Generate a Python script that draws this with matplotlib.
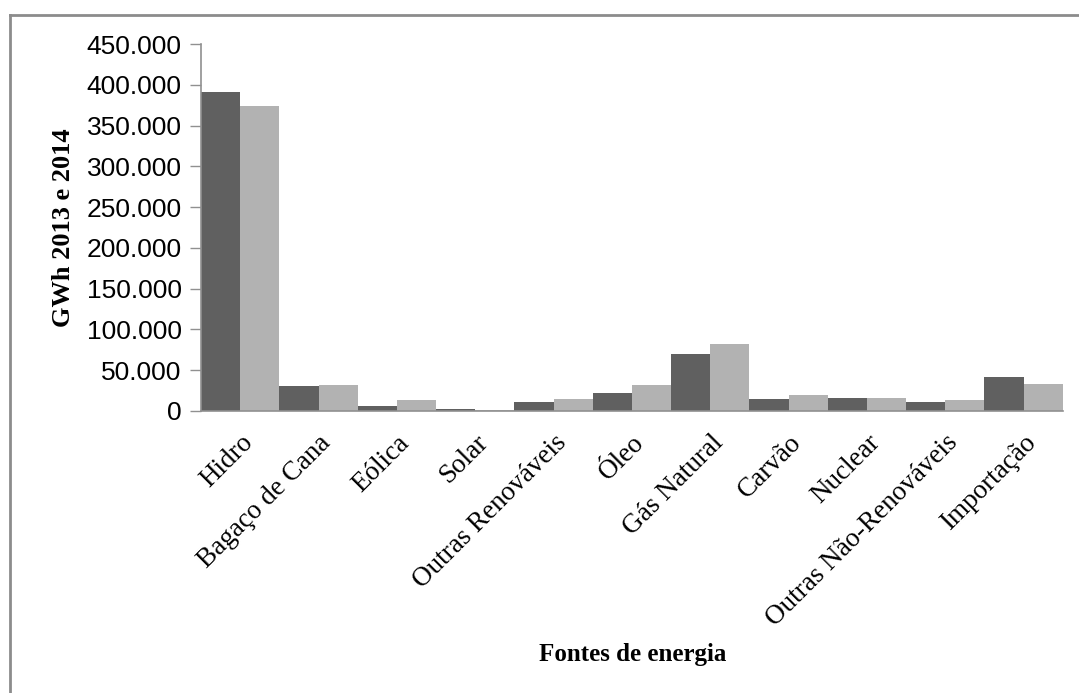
import numpy as np
import matplotlib.pyplot as plt
from matplotlib.lines import Line2D
from matplotlib.ticker import FuncFormatter

# Energy sources (GWh)
fontes = ['Hidro', 'Bagaço de Cana', 'Eólica', 'Solar', 'Outras Renováveis', 'Óleo',
          'Gás Natural', 'Carvão', 'Nuclear', 'Outras Não-Renováveis', 'Importação']
gwh_2013 = [390992, 30200, 6500, 2300, 11400, 22400, 69400, 14200, 15900, 11000, 41200]
gwh_2014 = [373439, 31800, 13000, 1200, 14700, 31900, 82100, 19100, 15600, 13000, 33500]
yticks = [0, 50000, 100000, 150000, 200000, 250000, 300000, 350000, 400000, 450000]


def main():
    fig = plt.figure(figsize=(10.79, 6.93), dpi=100)
    ax = fig.add_axes([0.1863, 0.407, 0.7987, 0.5295])

    x = np.arange(len(fontes))
    w = 0.5
    ax.bar(x - w / 2, gwh_2013, width=w, color='#606060', edgecolor='none')
    ax.bar(x + w / 2, gwh_2014, width=w, color='#b2b2b2', edgecolor='none')

    ax.set_xlim(-0.5, len(fontes) - 0.5)
    ax.set_ylim(0, 450000)
    ax.set_yticks(yticks)
    ax.yaxis.set_major_formatter(FuncFormatter(lambda v, p: f'{int(v):,}'.replace(',', '.')))
    ax.tick_params(axis='y', length=8, width=1, color='#909090', pad=6,
                   labelsize=19)
    for lab in ax.get_yticklabels():
        lab.set_fontfamily('Liberation Sans')

    ax.set_xticks(x)
    ax.set_xticklabels(fontes, rotation=45, ha='right', rotation_mode='anchor',
                       fontfamily='Liberation Serif', fontsize=19.5)
    ax.tick_params(axis='x', length=0, pad=14)

    for s in ['top', 'right']:
        ax.spines[s].set_visible(False)
    ax.spines['left'].set_color('#909090')
    ax.spines['bottom'].set_color('#909090')
    ax.spines['left'].set_linewidth(1.2)
    ax.spines['bottom'].set_linewidth(1.2)

    ax.set_ylabel('GWh 2013 e 2014', fontfamily='Liberation Serif', fontweight='bold',
                  fontsize=19, labelpad=8)
    fig.text(0.586, 0.055, 'Fontes de energia', ha='center', va='center',
             fontfamily='Liberation Serif', fontweight='bold', fontsize=18)

    # frame lines (left and top) of the original picture
    fig.add_artist(Line2D([0.0095, 0.0095], [0, 0.979], color='#8c8c8c', lw=2,
                          transform=fig.transFigure))
    fig.add_artist(Line2D([0.0095, 1.0], [0.979, 0.979], color='#8c8c8c', lw=2,
                          transform=fig.transFigure))

    fig.savefig('out.png', dpi=100)


if __name__ == '__main__':
    main()
